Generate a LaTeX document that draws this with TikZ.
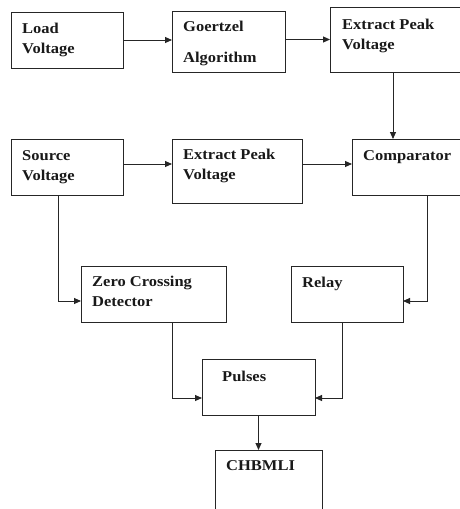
\documentclass[tikz,border=0pt]{standalone}
\usepackage{fontspec}
\newfontfamily\boxfont[FakeStretch=1.1]{Liberation Serif}
\usepackage{tikz}
\usetikzlibrary{positioning,arrows.meta}

\begin{document}
\begin{tikzpicture}[
    x=1pt, y=-1pt,
    block/.style={draw=black!85, line width=0.9pt, anchor=north west,
                  inner sep=0pt, outer sep=0pt},
    txt/.style={font=\boxfont\bfseries\fontsize{15}{20}\selectfont,
                align=left, inner sep=0pt, text=black!90},
    arrow/.style={-{Triangle[length=7pt,width=6pt]}, line width=0.9pt, draw=black!85},
  ]
    \fill[white] (0,0) rectangle (460,509);
    \useasboundingbox (0,0) rectangle (460,509);

    % Top row
    \node[block, minimum width=112, minimum height=56] (load) at (11,12) {};
    \node[block, minimum width=113, minimum height=61] (goertzel) at (172,11) {};
    \node[block, minimum width=136, minimum height=65] (peak1) at (330,7) {};

    % Middle row
    \node[block, minimum width=112, minimum height=56] (source) at (11,139) {};
    \node[block, minimum width=130, minimum height=64] (peak2) at (172,139) {};
    \node[block, minimum width=114, minimum height=56] (comp) at (352,139) {};

    % Lower blocks
    \node[block, minimum width=145, minimum height=56] (zcd) at (81,266) {};
    \node[block, minimum width=112, minimum height=56] (relay) at (291,266) {};
    \node[block, minimum width=113, minimum height=56] (pulses) at (202,359) {};
    \node[block, minimum width=107, minimum height=65] (chbmli) at (215,450) {};

    % Labels inside the blocks
    \node[txt, below right=11pt and 11pt of load.north west] (loadtxt) {Load\\Voltage};
    \node[txt, below right=10pt and 11pt of goertzel.north west] (goertzeltxt)
      {Goertzel\\[11pt]Algorithm};
    \node[txt, below right=12pt and 12pt of peak1.north west] (peaktxta)
      {Extract Peak\\Voltage};
    \node[txt, below right=11pt and 11pt of source.north west] (sourcetxt)
      {Source\\Voltage};
    \node[txt, below right=10pt and 11pt of peak2.north west] (peaktxtb)
      {Extract Peak\\Voltage};
    \node[txt, below right=11pt and 11pt of comp.north west] (comptxt) {Comparator};
    \node[txt, below right=10pt and 11pt of zcd.north west] (zcdtxt)
      {Zero Crossing\\Detector};
    \node[txt, below right=11pt and 11pt of relay.north west] (relaytxt) {Relay};
    \node[txt, below right=12pt and 20pt of pulses.north west] (pulsestxt) {Pulses};
    \node[txt, below right=10pt and 11pt of chbmli.north west] (chbmlitxt) {CHBMLI};

    % Arrows
    \draw[arrow] (load.east) -- (load.east -| goertzel.west);
    \draw[arrow] ([yshift=2pt]goertzel.east) -- ([yshift=2pt]goertzel.east -| peak1.west);
    \draw[arrow] ([xshift=-5pt]peak1.south) -- ([xshift=-5pt]peak1.south |- comp.north);
    \draw[arrow] ([yshift=3pt]source.east) -- ([yshift=3pt]source.east -| peak2.west);
    \draw[arrow] ([yshift=7pt]peak2.east) -- ([yshift=7pt]peak2.east -| comp.west);
    \draw[arrow] ([xshift=-9pt]source.south) |- ([yshift=-7pt]zcd.west);
    \draw[arrow] ([xshift=18pt]comp.south) |- ([yshift=-7pt]relay.east);
    \draw[arrow] ([xshift=18.5pt]zcd.south) |- ([yshift=-11pt]pulses.west);
    \draw[arrow] ([xshift=-5pt]relay.south) |- ([yshift=-11pt]pulses.east);
    \draw[arrow] (pulses.south) -- (pulses.south |- chbmli.north);
\end{tikzpicture}
\end{document}
